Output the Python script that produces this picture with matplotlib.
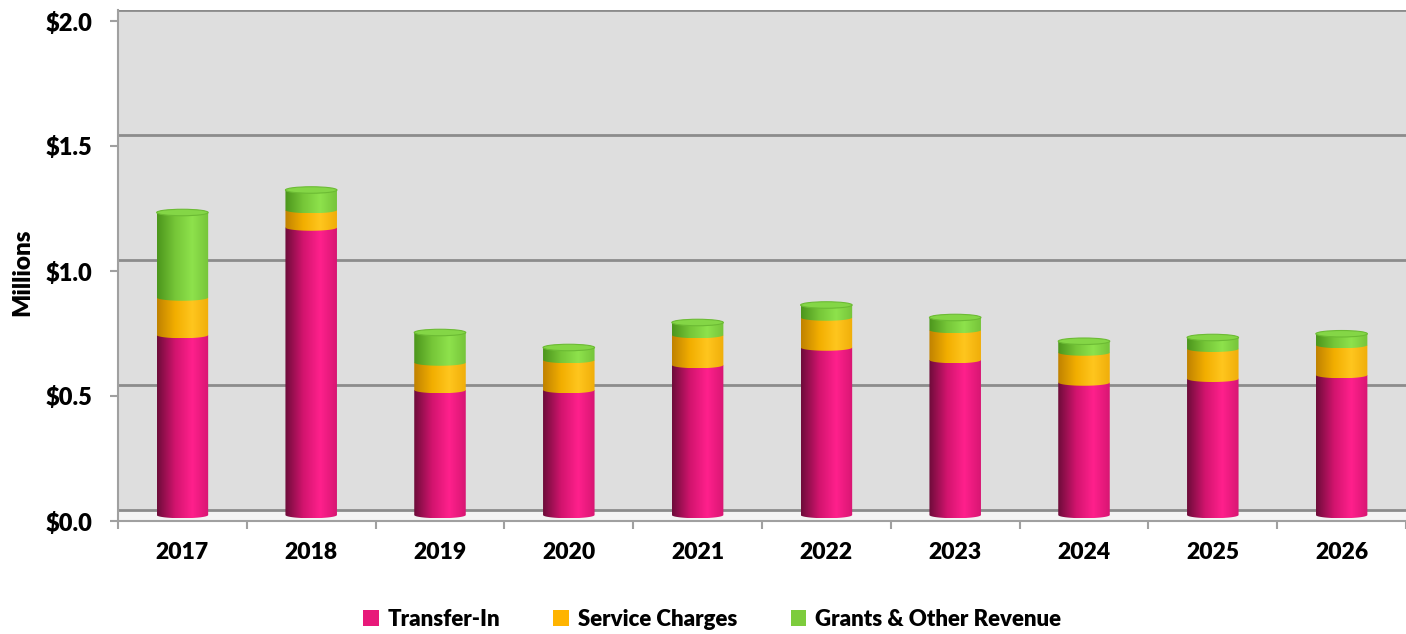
import numpy as np
import matplotlib
matplotlib.use("Agg")
import matplotlib.pyplot as plt
from matplotlib.patches import Rectangle, Ellipse, Patch, Polygon
from matplotlib.colors import to_rgb

# ---------------- data ----------------
years = ['2017', '2018', '2019', '2020', '2021', '2022', '2023', '2024', '2025', '2026']
transfer_in = [0.72, 1.15, 0.50, 0.50, 0.60, 0.67, 0.62, 0.53, 0.545, 0.56]
service_charges = [0.15, 0.07, 0.11, 0.12, 0.12, 0.12, 0.12, 0.12, 0.12, 0.12]
grants_other = [0.34, 0.08, 0.12, 0.05, 0.05, 0.05, 0.05, 0.045, 0.045, 0.045]
series_names = ['Transfer-In', 'Service Charges', 'Grants & Other Revenue']
yticks = [0.0, 0.5, 1.0, 1.5, 2.0]
ytick_labels = [r'\$0.0', r'\$0.5', r'\$1.0', r'\$1.5', r'\$2.0']

# ---------------- style ----------------
plt.rcParams['font.family'] = ['Lato', 'DejaVu Sans']
FW = 'heavy'
legend_colors = ['#E8197A', '#FFB400', '#7DCC3C']
# colour stops across cylinder width: (pos, colour)
shade_stops = [
    [(0.0, '#6E0C3A'), (0.35, '#D2146E'), (0.68, '#FF208C'), (1.0, '#D81673')],
    [(0.0, '#C08200'), (0.35, '#F2AE00'), (0.68, '#FFC61E'), (1.0, '#F0AE0A')],
    [(0.0, '#4C961C'), (0.35, '#76C638'), (0.68, '#8EE24C'), (1.0, '#76C43A')],
]
top_face = '#84D646'
top_edge = '#6CBB34'

W, H = 1406, 634
fig = plt.figure(figsize=(W / 100, H / 100), dpi=100)
fig.patch.set_facecolor('white')
ax = fig.add_axes([118 / W, (H - 521) / H, (W - 118) / W, (521 - 10) / H])
ax.set_facecolor('#F4F4F4')

depth = 0.044      # back-wall offset (3D look)
bar_off = 0.024    # bar base offset (mid depth)
bw = 0.40          # bar width (category units)
eh = 0.026         # ellipse height (data units)

# back wall
ax.add_patch(Rectangle((-0.5, depth), 12, 2.0, facecolor='#DEDEDE',
                       edgecolor='none', zorder=0))
for v in yticks:
    ax.axhline(v + depth, color='#8C8C8C', lw=2, zorder=1)


def shade_row(stops, n=96):
    t = np.linspace(0, 1, n)
    pos = [s[0] for s in stops]
    cols = np.array([to_rgb(s[1]) for s in stops])
    row = np.stack([np.interp(t, pos, cols[:, k]) for k in range(3)], axis=-1)
    return row[None, :, :]


series = [transfer_in, service_charges, grants_other]
x = np.arange(len(years))
for i in x:
    base = bar_off
    for s_idx, vals in enumerate(series):
        h = vals[i]
        b, t = base, base + h
        th = np.linspace(np.pi, 2 * np.pi, 60)
        xs = i + bw / 2 * np.cos(th)
        ys = b + eh / 2 * np.sin(th)
        verts = [(i - bw / 2, t)] + list(zip(xs, ys)) + [(i + bw / 2, t)]
        poly = Polygon(verts, closed=True, transform=ax.transData)
        im = ax.imshow(shade_row(shade_stops[s_idx]),
                       extent=[i - bw / 2, i + bw / 2, b - eh / 2, t],
                       aspect='auto', interpolation='bilinear',
                       zorder=3 + s_idx * 0.1)
        im.set_clip_path(poly)
        base = t
    ax.add_patch(Ellipse((i, base), bw, eh, facecolor=top_face,
                         edgecolor=top_edge, lw=0.8, zorder=4))

ax.set_xlim(-0.5, (W - 183) / 130)
ax.set_ylim(0, 2.0 + depth)

# axes / ticks
for sp in ['top', 'right']:
    ax.spines[sp].set_visible(False)
for sp in ['left', 'bottom']:
    ax.spines[sp].set_color('#A0A0A0')
    ax.spines[sp].set_linewidth(1.5)
    ax.spines[sp].set_zorder(5)

ax.set_yticks(yticks)
ax.set_yticklabels(ytick_labels, fontsize=17, fontweight=FW)
ax.tick_params(axis='y', length=5.8, width=1.5, color='#A0A0A0', pad=12.5)

ax.set_xticks(x)
ax.set_xticklabels(years, fontsize=16.5, fontweight=FW)
ax.set_xticks(np.arange(-0.5, len(years), 1.0), minor=True)
ax.tick_params(axis='x', which='major', length=0, pad=15)
ax.tick_params(axis='x', which='minor', length=5.8, width=1.5, color='#A0A0A0')

fig.text(22 / W, 1 - 272 / H, 'Millions', rotation=90, fontsize=17.5,
         fontweight=FW, ha='center', va='center')

handles = [Patch(facecolor=c, edgecolor='none') for c in legend_colors]
fig.legend(handles, series_names, loc='center',
           bbox_to_anchor=(712 / W, 1 - 619 / H), ncol=3, frameon=False,
           prop={'weight': FW, 'size': 16}, handlelength=0.7,
           handleheight=0.7, handletextpad=0.4, columnspacing=2.4)

fig.savefig('out.png', dpi=100)
